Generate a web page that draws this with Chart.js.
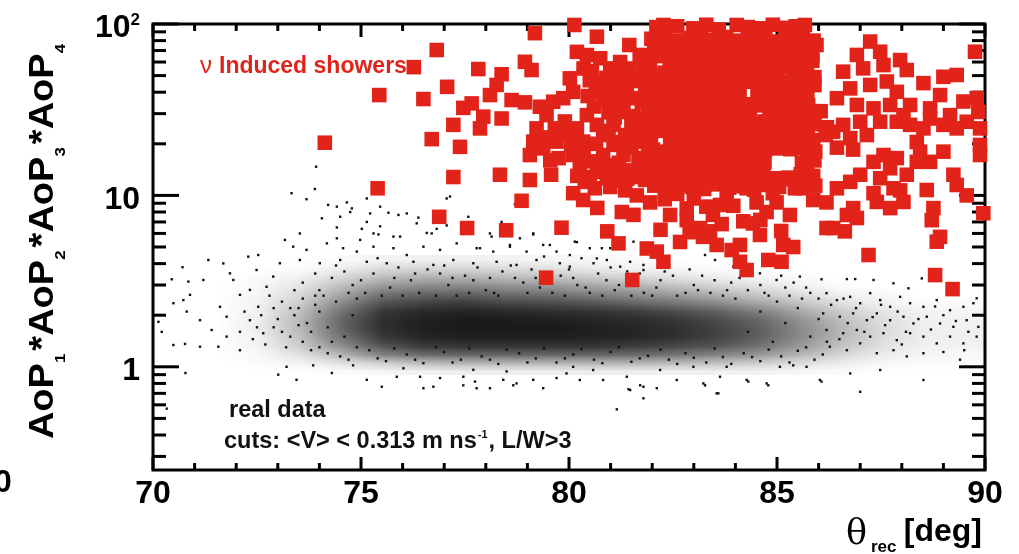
<!DOCTYPE html>
<html lang="en">
<head>
<meta charset="UTF-8">
<title>AoP product vs theta_rec</title>
<script src="https://cdn.jsdelivr.net/npm/chart.js@4.4.1/dist/chart.umd.min.js"></script>
<style>
    html, body { margin: 0; padding: 0; background: #fff; }
    #wrap { width: 1019px; height: 554px; }
</style>
</head>
<body>
<div id="wrap"><canvas id="grafico" width="1019" height="554"></canvas></div>

<script>
    // eixos
    const xTicks = [70, 75, 80, 85, 90];
    const yTicks = [1, 10, 100];
    const yTickLabels = ['1', '10', '10'];
    const yTickExpoentes = ['', '', '2'];
    const yMinor = [0.3, 0.4, 0.5, 0.6, 0.7, 0.8, 0.9, 2, 3, 4, 5, 6, 7, 8, 9, 20, 30, 40, 50, 60, 70, 80, 90];

    // nu induced showers: [theta_rec, AoP1*AoP2*AoP3*AoP4]
    const chuveirosNu = [
        [74.13,20.3],[75.44,38.5],[75.4,11.0],[76.27,56],[76.82,70.5],[76.5,36.5],[76.7,21.3],[76.88,7.5],[77.07,43],[77.46,32.4],[77.22,25.8],[77.38,19.2],[77.22,12.8],[77.55,6.45],
        [77.82,54.6],[78.38,50.9],[78.94,60.2],[79.1,53.9],[78.26,44.1],[78.1,38.5],[77.66,34.4],[78.62,36],[78.94,34.9],[77.94,28.8],[77.86,24.6],[78.38,28.1],[79.3,32.9],[79.62,35.2],
        [79.18,88.4],[80.13,98.7],[80.67,84.3],[81.45,75.4],[80.02,48.2],[80.19,68.8],[80.43,65.9],[80.75,63.1],[80.99,55.1],[80.1,40.2],[79.86,36.9],[79.46,29.4],[79.22,24.6],[79.66,24.6],
        [79.14,20.6],[79.06,17.2],[79.38,18.8],[79.7,20.6],[80.02,22.5],[80.19,24.6],[80.43,29.4],[80.67,25.8],[80.34,20.6],[80.1,17.2],[80.26,14.7],[80.38,12.0],[80.62,11.0],[80.67,13.7],
        [80.91,12.6],[81.15,13.7],[80.82,17.2],[81.07,19.7],[81.31,17.2],[80.82,22.5],[81.07,25.8],[81.31,30.7],[81.15,36.9],[81.39,44.1],[81.63,50.4],[81.79,57.6],[81.55,36.9],[81.71,26.9],
        [81.63,20.6],[81.67,16.5],[81.63,10.0],[81.27,8.0],[81.55,7.7],[79.06,12.3],[79.57,13.2],[78.34,13.2],[78.86,9.3],[80.68,8.45],[79.82,6.48],[78.49,6.26],[80.92,6.17],[81.19,5.25],
        [79.45,3.31],[81.52,3.21],[81.87,4.9],[81.35,22.5],[81.47,14.0],[81.83,12.3],[81.35,10.7],[81.83,42.3],[81.9,31.5],[81.23,60],[80.75,44],[80.87,36],[81.95,21],[80.5,47],
        [79.46,21.8],[79.86,22.7],[80.1,10.3],[80.34,9.4],[80.99,11.2],
        [80.45,38],[80.55,53],[80.95,30.5],[81.1,47],[81.25,40],[81.5,27],[81.45,55],[81.75,35],[81.2,15.5],[81.78,14.5],[80.55,15.8],[80.95,15],[81.5,19],[81.9,18],
        [81.95,48],[81.7,66],[79.75,16.5],[79.9,27],[79.55,16],
        [80.35,55],[80.65,46],[80.95,40],[81.25,33.5],[81.55,29],[81.85,24],[80.05,19.8],[80.35,17.2],[80.65,20],[80.95,23.8],[81.25,20.5],[81.55,23.5],[81.85,28],
        [80.6,33],[80.9,48.5],[81.2,52],[81.5,46.5],[81.85,38],[80.65,40],[81.1,28.5],[80.2,13],[80.5,12.8],[80.8,14.8],[81.1,12.2],[81.4,12.5],[81.7,12.8],[81.95,15.2],
        [82.27,98.7],[82.99,94.4],[84.03,98.7],[84.59,94.4],[85.67,98.7],[85.95,75.4],
        [82.1,96],[82.6,97],[83.3,99],[83.6,93],[84.3,96],[84.9,99],[85.2,95],[85.45,97],
        [81.98,82],[82.3,85],[82.58,80],[82.9,83],[83.18,86],[83.5,81],[83.78,84],[84.1,80],[84.38,86],[84.72,82],[85.0,79],[85.3,85],[85.62,83],[85.88,80],
        [82.05,70],[82.35,72],[82.62,68],[82.93,71],[83.22,69],[83.55,73],[83.82,70],[84.12,67],[84.42,71],[84.68,69],[84.98,72],[85.28,68],[85.58,70],[85.85,66],
        [81.95,59],[82.55,58],[82.85,61],[83.15,60],[83.45,57],[83.75,62],[84.05,59],[84.35,61],[84.65,58],[84.95,60],[85.25,62],[85.55,59],[85.85,61],
        [82.0,50],[82.3,52],[82.6,49],[82.9,51],[83.2,48],[83.5,52],[83.78,50],[84.08,51],[84.4,49],[84.7,53],[84.98,53],[85.35,46],[85.6,51],[85.9,49],
        [81.97,43],[82.27,41],[82.57,44],[82.88,42],[83.18,43],[83.48,45],[83.8,41],[84.1,43],[84.68,44],[85.0,41],[85.3,43],[85.6,42],[85.9,44],
        [82.0,36],[82.3,35],[82.6,37],[82.9,34],[83.2,36],[83.5,38],[83.8,35],[84.1,36],[84.4,34],[84.7,37],[85.0,35],[85.3,36],[85.62,38],[86.05,31],
        [81.95,31],[82.25,30],[82.55,32],[82.85,29.5],[83.15,31],[83.45,30],[83.75,32],[84.05,29],[84.35,31],[84.95,30],[85.25,31.5],[85.55,29.5],[85.85,31],
        [82.0,26],[82.3,25],[82.6,27],[82.9,25.5],[83.2,26],[83.5,24.5],[83.8,26.5],[84.1,25],[84.4,26],[84.7,27],[85.0,25],[85.3,26],[85.6,24.5],[85.9,26],[86.2,25],
        [81.97,22],[82.57,21.5],[82.87,22.5],[83.17,21],[83.47,22],[83.77,23],[84.07,21.5],[84.37,22],[84.67,21],[84.97,22.5],[85.27,21.5],[85.57,22],[85.87,21],[86.17,22.5],
        [82.02,18.5],[82.32,18],[82.62,19],[82.92,18.2],[83.22,18.8],[83.52,17.8],[83.82,18.4],[84.12,19],[84.42,18],[84.72,18.6],[85.02,18.8],[85.32,18.6],[85.62,18.8],[85.92,18],
        [82.0,15.5],[82.3,16],[82.6,15.2],[82.9,15.8],[83.2,16.2],[83.5,15.4],[83.8,15.9],[84.1,15.3],[84.4,16],[84.7,15.6],[85.6,15.4],[85.9,16],
        [81.97,13.2],[82.27,13.5],[82.57,12.9],[82.87,13.3],[83.17,13.6],[83.47,13.0],[83.77,13.4],[84.07,12.8],[84.37,13.5],[84.67,13.1],[84.97,12.6],[85.27,12.7],[85.57,13.3],[85.87,13.0],
        [82.05,11.4],[82.35,11.0],[82.65,11.5],[82.95,11.2],[83.25,10.9],[83.55,11.6],[83.85,11.1],[84.15,11.3],[84.45,10.8],[84.75,11.5],[85.05,11.2],[85.62,11.0],[85.92,11.4],
        [82.13,76],[82.43,77],[82.73,75],[83.03,77.5],[83.33,76],[83.63,75.5],[83.93,77],[84.23,76],[84.53,75],[84.83,77],[85.13,76.5],[85.43,75],[85.73,77],
        [82.15,65],[82.45,64],[82.75,66],[83.05,65],[83.35,63.5],[83.65,65.5],[83.95,64.5],[84.25,66],[84.55,64],[84.85,65],[85.15,66],[85.45,64],[85.75,65],
        [82.42,54],[82.72,56],[83.02,54.5],[83.32,55.5],[83.62,54],[83.92,56],[84.22,54.5],[84.52,55],[84.82,54],[85.12,56],[85.42,54.5],[85.72,55],
        [82.14,46.5],[82.44,47],[82.74,46],[83.04,47],[83.34,46.5],[83.64,45.5],[83.94,47],[84.24,46],[84.54,46.5],[84.84,47.5],[85.14,46],[85.44,47],[85.74,46.5],
        [82.13,39.5],[82.73,40],[83.03,38.5],[83.33,39.5],[83.63,40],[83.93,38.5],[84.53,39],[84.83,40],[85.13,38.5],[85.43,39.5],[85.73,39],
        [82.15,33],[82.45,33.5],[82.75,32.5],[83.05,33.5],[83.35,33],[83.65,34],[83.95,32.5],[84.25,33],[84.55,33.5],[84.85,32.5],[85.15,33.5],[85.45,33],[85.75,33.5],
        [82.12,28.2],[82.42,28.5],[82.72,27.8],[83.02,28.4],[83.32,28],[83.62,28.6],[83.92,28],[84.22,28.3],[84.82,28.5],[85.12,28],[85.42,28.4],[85.72,28],
        [82.14,23.8],[82.44,23.5],[82.74,24],[83.04,23.6],[83.34,24],[83.64,23.7],[83.94,24],[84.24,23.5],[84.54,24],[84.84,23.7],[85.14,24],[85.44,23.6],[85.74,23.8],
        [82.43,20],[82.73,20.4],[83.03,20.1],[83.33,20.3],[83.63,20],[83.93,20.4],[84.23,20.1],[84.53,20.3],[84.83,20],[85.13,20.2],[85.43,20.4],[85.73,20],
        [82.15,17],[82.45,17.2],[82.75,16.8],[83.05,17.1],[83.35,16.9],[83.65,17.2],[83.95,16.8],[84.25,17.1],[84.55,17],[85.73,17],
        [82.12,14.5],[82.42,14.3],[82.72,14.6],[83.02,14.4],[83.32,14.6],[83.62,14.3],[83.92,14.5],[84.22,14.6],[84.52,14.4],[85.73,14.5],
        [82.14,12.3],[82.44,12.2],[82.74,12.4],[83.04,12.2],[83.34,12.4],[83.64,12.3],[83.94,12.2],[84.24,12.4],[84.54,12.3],[84.84,12.1],[85.14,12.4],[85.44,12.2],[85.74,12.3],
        [81.95,9.1],[82.43,7.69],[82.83,8.4],[83.15,6.45],[83.39,6.17],[83.67,6.8],[83.63,8.8],[84.19,7.06],[84.59,5.88],[82.67,5.35],[83.55,5.14],[83.91,4.8],[84.11,5.14],[84.11,4.1],
        [84.27,3.67],[84.79,4.2],[85.11,4.1],[85.15,5.14],[85.39,5.0],[82.11,4.7],[82.27,4.1],[85.31,7.69],[84.99,9.1],[85.43,11.0],[86.19,6.45],[86.19,9.1],[84.75,8.0],[84.51,9.1],
        [83.79,10.0],[84.27,11.0],[87.32,10.3],[87.96,10.7],[82.83,7.17],[83.22,5.73],[83.46,7.7],[84.42,6.86],[84.9,10.3],[85.87,9.4],[88.6,10.75],
        [82.3,9.5],[82.6,10.2],[83.0,9.6],[83.3,8.6],[83.95,8.7],[84.6,7.2],[85.1,6.2],[82.2,6.3],[82.9,6.1],
        [89.76,68.9],[87.24,79],[87.48,68.9],[86.92,66],[87.96,61.6],[88.12,53.9],[87.56,57.6],[87.07,55.1],[86.59,52.7],[88.52,45.2],[89.0,49.2],[89.32,50.4],[88.92,38.5],[87.64,46.2],
        [87.88,40.2],[87.24,44.1],[86.76,42.1],[86.44,36.9],[86.92,33.7],[87.32,32.2],[87.72,33.7],[88.2,33.7],[88.68,32.2],[89.16,29.4],[89.48,35.3],[89.8,37.0],[89.84,30.7],[89.56,26.9],
        [89.88,24.6],[89.32,24.6],[89.0,25.8],[88.52,24.6],[88.68,28.1],[87.88,26.9],[87.48,26.9],[87.0,26.9],[86.59,25.8],[86.35,23.5],[86.76,21.6],[87.16,22.5],[86.44,19.0],[86.83,18.5],
        [89.88,19.7],[89.88,17.2],[88.44,18.0],[89.0,18.0],[88.68,15.7],[88.36,15.7],[87.88,16.5],[87.56,17.2],[87.32,15.7],[87.72,14.4],[87.48,12.6],[87.0,13.2],[86.76,12.0],[86.44,11.0],
        [88.12,13.2],[87.8,11.0],[89.24,13.2],[89.32,11.5],[89.56,10.0],[89.96,7.87],[87.4,9.16],[87.72,8.43],[88.04,9.16],[86.83,8.43],[86.68,7.69],[86.92,7.38],[86.35,6.45],[86.63,6.17],
        [88.76,8.43],[88.72,7.17],[88.92,5.73],[88.84,5.37],[87.2,4.49],[88.8,3.43],[89.22,2.84],[88.36,20.5],[88.2,25.8],[88.04,29.4]
    ];

    // real data, pontos isolados: [theta_rec, AoP]
    const dadosReais = [
        [73.33,10.3],[73.89,10.9],[73.69,9.5],[74.21,8.8],[74.66,9.1],[74.74,8.0],[74.06,7.35],[74.42,6.5],[75.22,7.85],[75.66,7.92],[75.9,7.69],[76.1,7.85],[75.14,7.0],[75.46,6.6],
        [77.14,9.85],[77.58,7.5],[76.7,6.0],[73.17,5.5],[73.53,6.0],[74.42,5.62],[74.98,5.5],[75.3,6.0],[75.78,5.75],[76.34,6.87],[78.1,6.0],[78.82,5.62],[79.14,6.0],
        [71.33,4.2],[71.69,4.01],[70.71,3.81],[70.45,3.24],[70.85,3.14],[71.21,3.21],[71.85,3.51],[71.93,3.21],[72.29,4.39],[72.53,4.49],[72.49,3.67],[72.33,2.81],[72.09,2.63],
        [70.89,2.63],[70.73,2.45],[70.49,2.35],[70.81,2.1],[71.13,1.87],[71.61,2.24],[71.77,1.96],[71.41,1.64],[71.77,1.5],[72.09,1.6],[70.49,1.34],[70.77,1.36],[71.13,1.31],
        [71.57,1.31],[70.21,1.6],[70.13,1.83],[72.89,3.36],[72.73,2.93],[73.05,4.02],[72.53,2.24],[72.33,1.87],[72.65,1.57],[72.09,1.25],[73.01,0.9],[73.45,0.84],[74.3,0.92],
        [75.14,0.84],[75.5,0.765],[75.86,0.875],[76.42,0.875],[76.9,0.86],[77.46,0.875],[77.74,0.82],[78.1,0.75],[78.42,0.84],[78.74,0.8],[79.14,0.84],[79.38,0.75],[79.7,0.86],
        [76.5,0.75],[76.02,0.98],[73.21,1.0],[73.85,1.02],[74.81,1.02],[77.7,0.96],[78.5,0.94],
        [73.37,5.02],[73.69,4.81],[74.18,5.25],[74.57,4.92],[74.9,4.7],[75.3,5.02],[75.78,4.92],[76.1,4.49],[76.5,5.02],[76.9,4.81],[77.3,5.25],[77.78,4.92],[78.18,4.7],[78.58,5.02],
        [78.98,4.7],[79.38,5.14],[79.7,4.7],[73.53,4.2],[74.01,4.02],[74.5,4.2],[75.14,4.1],[75.62,4.02],[76.26,4.1],[76.74,3.93],[77.22,4.2],[77.7,4.02],[78.26,4.1],[78.74,3.93],
        [79.22,4.2],[79.78,4.02],
        [73.92,14.7],[75.14,9.6],[74.42,8.6],[74.78,8.4],[75.46,8.6],[76.38,7.42],[77.06,9.6],[74.5,7.51],[75.02,6.38],[75.42,5.92],[75.94,5.75],[76.58,6.04],[76.82,6.38],[77.06,6.68],
        [78.14,5.75],[79.14,5.92],[79.54,5.14],[80.19,5.34],[80.5,4.92],[78.58,5.14],[77.86,4.92],[78.38,7.0],[78.7,8.88],[80.99,4.92],[81.47,4.1],[81.79,3.93],[80.02,4.49],[80.67,4.29],
        [80.14,5.37],[80.79,4.92],[81.55,5.37],[80.91,4.2],[80.59,4.02],[80.02,3.84],[81.23,3.84],[81.79,3.67],[83.27,4.49],[83.51,4.2],[83.95,3.84],[84.59,3.51],[84.99,3.21],[85.55,3.36],
        [86.07,3.24],[86.68,3.25],[86.88,3.25],[87.32,3.21],[87.8,3.07],[88.16,2.87],[88.48,3.28],[89.8,2.51],
        [86.19,2.69],[86.44,2.45],[86.76,2.56],[87.0,2.35],[87.24,2.69],[87.48,2.45],[87.72,2.24],[87.96,2.56],[88.2,2.35],[88.52,2.24],[88.84,2.45],[89.16,2.14],[89.48,2.24],[89.72,2.35],
        [86.11,2.05],[86.51,1.96],[86.83,2.05],[87.16,1.87],[87.4,2.05],[87.72,1.87],[88.04,1.96],[88.28,1.79],[88.6,1.96],[88.92,1.79],[89.24,1.71],[89.56,1.87],[89.84,1.71],
        [86.19,1.64],[86.59,1.57],[86.92,1.64],[87.24,1.5],[87.56,1.57],[87.88,1.43],[88.2,1.57],[88.52,1.5],[88.84,1.37],[89.16,1.5],[89.48,1.37],[89.8,1.5],
        [86.27,1.31],[86.68,1.25],[87.0,1.37],[87.4,1.2],[87.8,1.25],[88.12,1.15],[88.52,1.2],[89.0,1.22],[89.4,1.1],[86.76,0.915],[87.48,0.958],[88.52,0.838],[86.03,0.838],[87.0,0.715],
        [79.94,0.915],[80.26,0.838],[80.82,0.838],[81.39,0.875],[81.79,0.765],[82.19,0.958],[82.59,0.838],[83.23,0.8],[83.63,0.875],[84.27,0.838],[84.75,0.8],[85.07,1.0],[85.39,1.02],
        [85.71,1.0],[81.47,0.732],[83.55,0.7],[80.1,1.0],[80.58,0.958],[82.99,1.0],[83.79,1.0],
        [81.43,0.74],[81.71,0.78],[82.11,0.75],[81.79,0.655],[81.15,0.565],[83.27,0.78],[83.59,0.7],[84.31,0.82],[84.79,0.78],[86.07,0.82],[76.74,0.765],[77.46,0.78],[77.78,0.75],
        [78.66,0.78],[70.33,0.57],[70.78,0.92],
        [74.3,3.3],[74.8,3.0],[75.3,3.5],[75.7,2.9],[76.2,3.2],[76.6,3.7],[77.1,3.0],[77.5,3.4],[78.0,2.8],[78.4,3.6],[78.9,3.1],[79.3,2.9],[79.8,3.4],[80.2,3.0],[80.7,3.5],[81.1,2.8],
        [81.6,3.2],[82.1,2.9],[82.5,3.4],[83.0,3.0],[83.4,2.7],[83.9,3.1],[84.3,2.8],[84.8,2.6],[85.2,2.9],[85.6,2.5],
        [74.0,2.8],[74.6,3.6],[75.1,2.7],[75.9,3.8],[76.4,2.7],[76.9,3.5],[77.3,2.6],[77.8,3.8],[78.2,2.7],[78.7,3.3],[79.1,3.7],[79.6,2.7],[80.0,3.7],[80.5,2.7],[80.9,3.2],[81.4,3.6],
        [81.8,2.7],[82.3,3.6],[82.8,2.7],[83.2,3.4],[83.7,2.6],[84.1,3.3],[84.6,3.0],[85.0,2.4],[85.4,3.1],[85.8,2.7],
        [74.2,1.2],[74.7,1.1],[75.2,1.25],[75.6,1.08],[76.1,1.18],[76.5,1.05],[77.0,1.22],[77.4,1.1],[77.9,1.15],[78.3,1.04],[78.8,1.2],[79.2,1.12],[79.7,1.06],[80.1,1.18],[80.6,1.1],
        [81.0,1.22],[81.5,1.07],[81.9,1.16],[82.4,1.1],[82.8,1.2],[83.3,1.06],[83.7,1.14],[84.2,1.2],[84.6,1.08],[85.1,1.15],[85.5,1.24],[85.9,1.1],
        [72.6,2.0],[72.9,1.7],[73.1,2.4],[73.3,1.5],[73.5,2.2],[73.7,1.8],[73.9,2.6],[72.8,2.6],[73.2,1.3],[73.6,1.4],[72.4,1.45],[72.2,2.1],[73.0,1.9],[73.4,2.8],[73.8,1.25],[72.7,1.35],
        [73.6,3.1],[73.9,3.5],[74.1,2.6],[74.4,3.9],[74.9,2.5],[75.0,3.2],[75.4,4.3],[75.5,2.6],[75.8,3.3],[76.0,2.6],[76.3,3.5],[76.8,2.6],[77.0,3.9],[77.2,3.3],[77.6,2.7],[77.7,3.2],
        [78.1,3.3],[78.3,2.6],[78.6,3.9],[79.0,2.7],[79.2,3.3],[79.4,4.4],[79.5,3.1],[79.9,2.6],[80.1,3.3],[80.3,4.3],[80.4,2.9],[80.8,2.6],[81.0,3.8],[81.2,3.0],[81.5,2.6],[81.7,3.5],
        [82.0,2.6],[82.2,3.2],[82.6,2.6],[82.9,3.7],[83.1,2.8],[83.5,3.2],[83.8,2.8],[84.0,2.5],[84.4,3.5],[84.7,2.7],[85.1,3.4],[85.3,2.6],[85.7,2.9],[86.0,2.5],
        [74.0,1.3],[74.5,1.15],[74.9,1.3],[75.4,1.12],[75.8,1.28],[76.3,1.1],[76.8,1.3],[77.2,1.06],[77.6,1.28],[78.1,1.1],[78.5,1.26],[79.0,1.06],[79.4,1.28],[79.9,1.12],[80.3,1.27],
        [80.8,1.05],[81.2,1.3],[81.7,1.12],[82.2,1.26],[82.6,1.04],[83.0,1.13],[83.5,1.28],[83.9,1.04],[84.4,1.14],[84.8,1.26],[85.3,1.06],[85.7,1.3],[86.1,1.18],
        [73.4,2.0],[73.6,2.5],[73.8,1.6],[74.0,2.1],[74.2,1.7],[74.4,2.4],[74.6,1.5],[74.8,2.0],[73.1,1.6],[73.5,1.75],[73.9,2.3],[74.3,1.4],[74.7,2.7],[73.3,2.2],[72.9,2.2],[72.5,1.7],
        [84.3,1.6],[84.6,2.1],[84.9,1.4],[85.2,1.8],[85.5,2.2],[85.8,1.5],[86.0,1.9],[86.3,2.3],[86.5,1.45],[86.7,1.8],[86.9,2.2],[87.1,1.6],[87.3,1.95],[87.6,1.75],[87.9,2.1],[88.1,1.6],
        [88.4,1.9],[88.7,1.65],[89.0,2.0],[89.3,1.85],[89.6,1.6],[89.9,2.0],[86.2,1.4],[86.6,2.5],[87.5,2.3],[88.0,1.35],[88.8,2.25],[89.5,1.25]
    ];

    // nucleo denso do real data, lido como densidade (0..1) por celula
    const densTheta = [71, 72, 73, 74, 75, 76, 77, 78, 79, 80, 81, 82, 83, 84, 85, 86, 87, 88, 89, 90];
    const densAoP = [0.89, 1.0, 1.12, 1.26, 1.41, 1.58, 1.78, 2.0, 2.24, 2.51, 2.82, 3.16, 3.55, 3.98, 4.47];
    // uma coluna por faixa de theta, de baixo para cima
    const densidade = [
        [0, 0, 0, 0, 0, 0, 0, 0, 0, 0, 0, 0, 0, 0],
        [0, 0.02, 0.03, 0.05, 0.06, 0.07, 0.07, 0.06, 0.05, 0.04, 0.03, 0.02, 0, 0],
        [0, 0.05, 0.12, 0.2, 0.25, 0.28, 0.28, 0.25, 0.2, 0.15, 0.1, 0.06, 0.02, 0],
        [0.02, 0.12, 0.3, 0.45, 0.55, 0.6, 0.6, 0.55, 0.46, 0.35, 0.25, 0.15, 0.07, 0.02],
        [0.04, 0.2, 0.5, 0.68, 0.78, 0.82, 0.82, 0.78, 0.68, 0.55, 0.4, 0.26, 0.14, 0.05],
        [0.06, 0.28, 0.6, 0.78, 0.86, 0.88, 0.88, 0.84, 0.74, 0.6, 0.45, 0.3, 0.16, 0.06],
        [0.07, 0.3, 0.62, 0.8, 0.88, 0.9, 0.9, 0.86, 0.76, 0.62, 0.46, 0.3, 0.16, 0.06],
        [0.07, 0.3, 0.62, 0.8, 0.88, 0.9, 0.89, 0.84, 0.72, 0.57, 0.42, 0.26, 0.14, 0.05],
        [0.07, 0.3, 0.62, 0.8, 0.88, 0.9, 0.88, 0.82, 0.7, 0.55, 0.4, 0.24, 0.12, 0.04],
        [0.07, 0.3, 0.62, 0.8, 0.87, 0.88, 0.86, 0.8, 0.66, 0.5, 0.35, 0.2, 0.09, 0.03],
        [0.07, 0.3, 0.6, 0.77, 0.85, 0.86, 0.83, 0.76, 0.6, 0.44, 0.3, 0.16, 0.06, 0.02],
        [0.06, 0.28, 0.56, 0.73, 0.81, 0.82, 0.79, 0.7, 0.54, 0.38, 0.24, 0.11, 0.04, 0],
        [0.06, 0.25, 0.5, 0.67, 0.74, 0.75, 0.71, 0.62, 0.46, 0.3, 0.17, 0.07, 0.02, 0],
        [0.05, 0.2, 0.42, 0.56, 0.63, 0.64, 0.6, 0.5, 0.35, 0.21, 0.11, 0.04, 0, 0],
        [0.03, 0.14, 0.3, 0.41, 0.46, 0.47, 0.43, 0.35, 0.24, 0.13, 0.06, 0.02, 0, 0],
        [0.02, 0.08, 0.17, 0.24, 0.28, 0.29, 0.26, 0.2, 0.12, 0.06, 0.02, 0, 0, 0],
        [0, 0.04, 0.08, 0.12, 0.14, 0.14, 0.13, 0.1, 0.06, 0.03, 0, 0, 0, 0],
        [0, 0.02, 0.04, 0.06, 0.07, 0.07, 0.06, 0.05, 0.02, 0, 0, 0, 0, 0],
        [0, 0.02, 0.03, 0.05, 0.06, 0.06, 0.05, 0.04, 0.02, 0, 0, 0, 0, 0]
    ];

    const vermelho = '#e2231a';
    const fonte = '"Liberation Sans", Arial, sans-serif';

    function escreve(c, txt, x, y, font, cor, alinh) {
        c.font = font;
        c.fillStyle = cor;
        c.textAlign = alinh || 'left';
        c.textBaseline = 'alphabetic';
        c.fillText(txt, x, y);
        return c.measureText(txt).width;
    }

    // nuvem de densidade, desenhada pelas escalas do grafico
    const nuvem = {
        id: 'nuvem',
        beforeDatasetsDraw(chart) {
            const { ctx, scales: { x, y } } = chart;
            const nc = densidade.length, nr = densidade[0].length;
            const off = document.createElement('canvas');
            off.width = nc; off.height = nr;
            const octx = off.getContext('2d');
            const img = octx.createImageData(nc, nr);
            for (let c = 0; c < nc; c++) {
                for (let r = 0; r < nr; r++) {
                    const i = ((nr - 1 - r) * nc + c) * 4;
                    img.data[i] = 0; img.data[i + 1] = 0; img.data[i + 2] = 0;
                    img.data[i + 3] = Math.round(densidade[c][r] * 255);
                }
            }
            octx.putImageData(img, 0, 0);
            const x0 = x.getPixelForValue(densTheta[0]);
            const x1 = x.getPixelForValue(densTheta[densTheta.length - 1]);
            const y0 = y.getPixelForValue(densAoP[densAoP.length - 1]);
            const y1 = y.getPixelForValue(densAoP[0]);
            ctx.save();
            ctx.imageSmoothingEnabled = true;
            ctx.imageSmoothingQuality = 'low';
            ctx.drawImage(off, x0, y0, x1 - x0, y1 - y0);
            ctx.restore();
        }
    };

    // moldura, ticks e rotulos no estilo ROOT
    const moldura = {
        id: 'moldura',
        beforeDatasetsDraw(chart) {
            const { ctx, chartArea: a, scales: { x, y } } = chart;
            ctx.save();
            ctx.strokeStyle = '#000';
            ctx.lineWidth = 3;
            ctx.strokeRect(a.left, a.top, a.right - a.left, a.bottom - a.top);

            function traco(x1, y1, x2, y2) {
                ctx.beginPath(); ctx.moveTo(x1, y1); ctx.lineTo(x2, y2); ctx.stroke();
            }

            for (let v = xTicks[0]; v <= xTicks[xTicks.length - 1]; v++) {
                const px = x.getPixelForValue(v);
                const len = xTicks.includes(v) ? 13 : 7;
                traco(px, a.bottom, px, a.bottom - len);
                traco(px, a.top, px, a.top + len);
            }
            yTicks.forEach(v => {
                const py = y.getPixelForValue(v);
                traco(a.left, py, a.left + 26, py);
                traco(a.right, py, a.right - 26, py);
            });
            yMinor.forEach(v => {
                const py = y.getPixelForValue(v);
                traco(a.left, py, a.left + 13, py);
                traco(a.right, py, a.right - 13, py);
            });

            xTicks.forEach(v => {
                escreve(ctx, String(v), x.getPixelForValue(v), 503, 'bold 32px ' + fonte, '#000', 'center');
            });
            yTicks.forEach((v, i) => {
                const py = y.getPixelForValue(v);
                if (yTickExpoentes[i]) {
                    const we = escreve(ctx, yTickExpoentes[i], 140, py + 1, 'bold 17px ' + fonte, '#000', 'right');
                    escreve(ctx, yTickLabels[i], 140 - we, py + 13, 'bold 32px ' + fonte, '#000', 'right');
                } else {
                    escreve(ctx, yTickLabels[i], 140, py + 13.5, 'bold 32px ' + fonte, '#000', 'right');
                }
            });
            ctx.restore();
        }
    };

    // titulos e anotacoes
    const textos = {
        id: 'textos',
        afterDatasetsDraw(chart) {
            const ctx = chart.ctx;
            ctx.save();

            // titulo do eixo y (rotacionado)
            const fP = 'bold 38px ' + fonte, fS = 'bold 17px ' + fonte;
            const partes = [];
            for (let i = 1; i <= 4; i++) {
                partes.push(['AoP', fP, 0, 0]);
                partes.push([String(i), fS, 13, 3]);
                if (i < 4) partes.push(['*', fP, 0, 0]);
            }
            let total = 0;
            partes.forEach(p => { ctx.font = p[1]; p.push(ctx.measureText(p[0]).width); total += p[4] + p[3]; });
            ctx.save();
            ctx.translate(53, 240);
            ctx.rotate(-Math.PI / 2);
            ctx.scale(1, 0.9);
            let cx = -total / 2;
            partes.forEach(p => {
                escreve(ctx, p[0], cx, p[2], p[1], '#000', 'left');
                cx += p[4] + p[3];
            });
            ctx.restore();

            // titulo do eixo x
            escreve(ctx, '\u03B8', 846, 544, '35px "DejaVu Serif", serif', '#000', 'left');
            escreve(ctx, 'rec', 871, 552, 'bold 17px ' + fonte, '#000', 'left');
            escreve(ctx, '[deg]', 982, 541, 'bold 32px ' + fonte, '#000', 'right');

            // legenda em texto
            escreve(ctx, '\u03BD', 200, 73, '24px ' + fonte, vermelho, 'left');
            escreve(ctx, 'Induced showers', 219, 73, 'bold 23px ' + fonte, vermelho, 'left');

            escreve(ctx, 'real data', 229, 417, 'bold 23.5px ' + fonte, '#111', 'left');
            let px = 224;
            px += escreve(ctx, 'cuts: <V> < 0.313 m ns', px, 448, 'bold 23.5px ' + fonte, '#111', 'left');
            px += escreve(ctx, '-1', px + 1, 438, 'bold 11px ' + fonte, '#111', 'left') + 2;
            escreve(ctx, ', L/W>3', px, 448, 'bold 23.5px ' + fonte, '#111', 'left');

            // resto do painel vizinho, cortado na borda
            escreve(ctx, '0', 3, 492, 'bold 32px ' + fonte, '#000', 'center');
            ctx.restore();
        }
    };

    const ctxGrafico = document.getElementById('grafico');

    new Chart(ctxGrafico, {
        type: 'scatter',
        data: {
            datasets: [{
                label: 'nu induced showers',
                data: chuveirosNu.map(p => ({ x: p[0], y: p[1] })),
                pointStyle: 'rect',
                pointRadius: 10.3,
                backgroundColor: vermelho,
                borderWidth: 0,
                clip: false,
                order: 0
            }, {
                label: 'real data',
                data: dadosReais.map(p => ({ x: p[0], y: p[1] })),
                pointStyle: 'rect',
                pointRadius: 1.7,
                backgroundColor: '#111',
                borderWidth: 0,
                clip: false,
                order: 1
            }]
        },
        options: {
            responsive: false,
            animation: false,
            devicePixelRatio: 1,
            events: [],
            layout: { padding: { left: 153, right: 34, top: 24, bottom: 84 } },
            scales: {
                x: { type: 'linear', min: 70, max: 90, display: false },
                y: { type: 'logarithmic', min: 0.25, max: 100, display: false }
            },
            plugins: {
                legend: { display: false },
                tooltip: { enabled: false }
            }
        },
        plugins: [nuvem, moldura, textos]
    });
</script>
</body>
</html>
